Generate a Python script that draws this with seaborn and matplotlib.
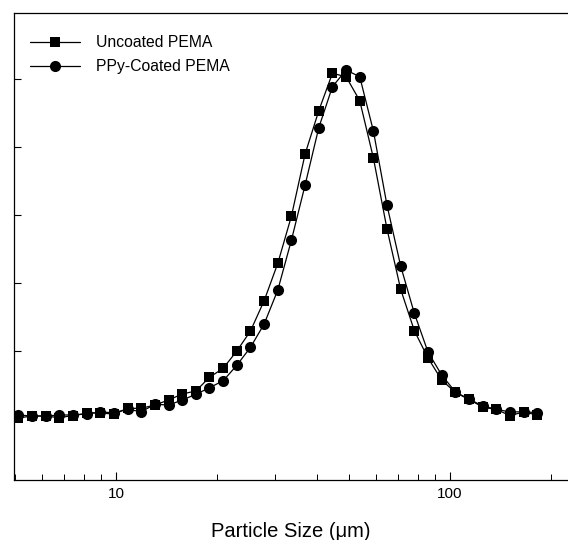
import matplotlib
matplotlib.use("Agg")
import matplotlib.pyplot as plt
import seaborn as sns
import pandas as pd
from matplotlib.ticker import LogLocator, NullFormatter, FixedLocator

# particle size bins (um)
size = [5.10, 5.60, 6.16, 6.76, 7.43, 8.17, 8.97, 9.86, 10.83, 11.90,
        13.08, 14.37, 15.79, 17.34, 19.05, 20.94, 23.00, 25.27, 27.77, 30.51,
        33.52, 36.83, 40.47, 44.46, 48.85, 53.68, 58.98, 64.78, 71.18, 78.21,
        85.94, 94.43, 103.8, 114.0, 125.3, 137.6, 151.2, 166.2, 182.6]

# relative frequency (arbitrary units, axis has no labels)
uncoated = [0.015, 0.044, 0.044, 0.019, 0.051, 0.084, 0.093, 0.069, 0.157, 0.157,
            0.206, 0.279, 0.368, 0.412, 0.613, 0.746, 1.000, 1.294, 1.740, 2.290,
            2.985, 3.897, 4.534, 5.084, 5.034, 4.681, 3.838, 2.794, 1.907, 1.299,
            0.897, 0.574, 0.390, 0.287, 0.176, 0.140, 0.051, 0.103, 0.059]
coated = [0.059, 0.044, 0.044, 0.059, 0.059, 0.074, 0.103, 0.093, 0.143, 0.107,
          0.216, 0.206, 0.279, 0.363, 0.460, 0.563, 0.790, 1.054, 1.397, 1.897,
          2.632, 3.441, 4.284, 4.887, 5.132, 5.034, 4.235, 3.143, 2.250, 1.554,
          0.985, 0.647, 0.397, 0.294, 0.191, 0.143, 0.103, 0.107, 0.093]

labels = ["Uncoated PEMA", "PPy-Coated PEMA"]

sns.set_style("ticks")
plt.rcParams['font.family'] = ['Liberation Sans', 'DejaVu Sans']
plt.rcParams['text.color'] = 'black'
plt.rcParams['axes.labelcolor'] = 'black'
plt.rcParams['xtick.color'] = 'black'
plt.rcParams['ytick.color'] = 'black'

fig = plt.figure(figsize=(5.68, 5.40), dpi=100)
ax = fig.add_axes([14 / 568, 60 / 540, 554 / 568, 467 / 540])

df1 = pd.DataFrame({"size": size, "freq": uncoated})
df2 = pd.DataFrame({"size": size, "freq": coated})

sns.lineplot(data=df1, x="size", y="freq", ax=ax, color="black", lw=0.9,
             marker="s", markersize=7.2, markeredgewidth=0, label=labels[0])
sns.lineplot(data=df2, x="size", y="freq", ax=ax, color="black", lw=0.9,
             marker="o", markersize=8, markeredgewidth=0, label=labels[1])

ax.set_xscale("log")
ax.set_xlim(4.95, 225.6)
ax.set_ylim(-0.897, 5.971)

ax.xaxis.set_major_locator(FixedLocator([10, 100]))
ax.set_xticklabels(["10", "100"])
ax.xaxis.set_minor_locator(LogLocator(base=10, subs=range(2, 10)))
ax.xaxis.set_minor_formatter(NullFormatter())
ax.set_yticks([0, 1, 2, 3, 4, 5])
ax.set_yticklabels([])

ax.tick_params(axis="x", which="major", direction="in", length=6, width=0.8,
               labelsize=11, pad=5)
ax.tick_params(axis="x", which="minor", direction="in", length=4, width=0.7)
ax.tick_params(axis="y", which="major", direction="in", length=5, width=0.8)

for s in ["left", "bottom", "top"]:
    ax.spines[s].set_linewidth(0.9)
    ax.spines[s].set_color("black")
ax.spines["right"].set_visible(False)

ax.set_xlabel("Particle Size (\u03bcm)", fontsize=14.5, labelpad=15)
ax.set_ylabel("")

ax.legend(loc="upper left", bbox_to_anchor=(0.0289, 0.952), frameon=False,
          fontsize=11.3, handlelength=3.2, handletextpad=1.0, labelspacing=0.55,
          borderpad=0, borderaxespad=0)

fig.savefig("out.png", dpi=100)
